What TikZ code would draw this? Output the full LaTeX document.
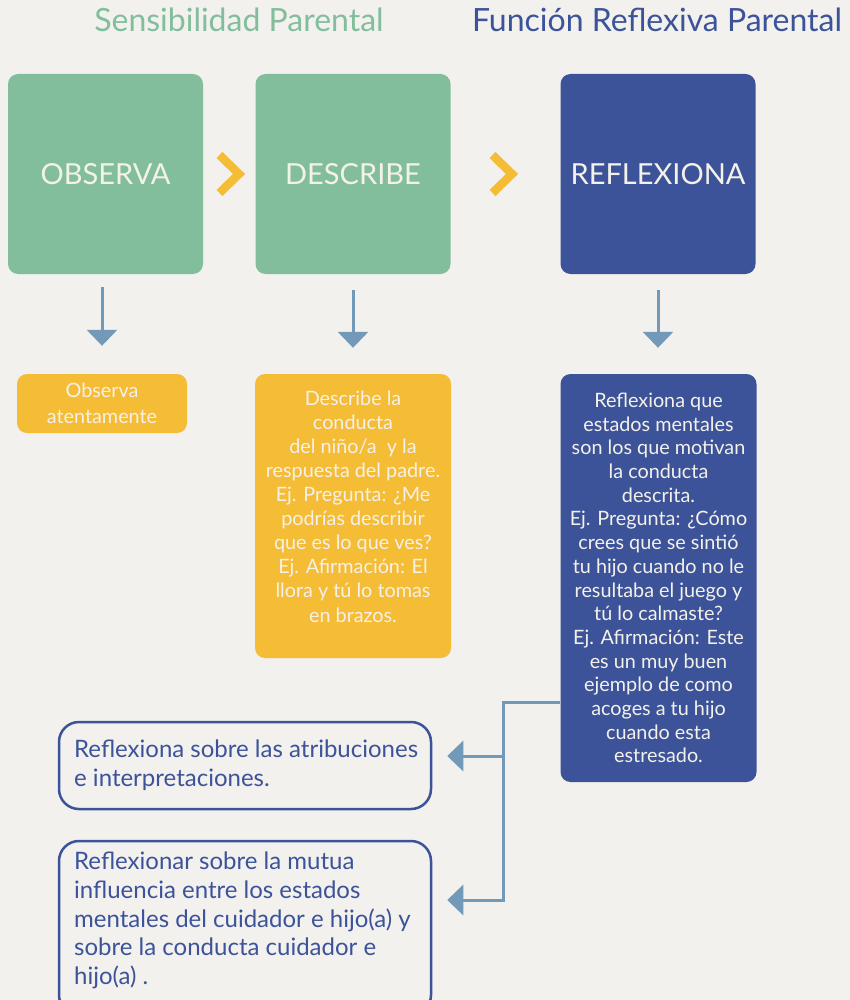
\documentclass[tikz,border=0pt]{standalone}
\usepackage{fontspec}
\setmainfont{Lato}
\usetikzlibrary{arrows.meta,calc}
\definecolor{bg}{HTML}{F2F1EE}
\definecolor{sgreen}{HTML}{82BE9C}
\definecolor{sblue}{HTML}{3C5399}
\definecolor{syellow}{HTML}{F5BC36}
\definecolor{sarrow}{HTML}{7399B8}
\definecolor{stext}{HTML}{F4F1EA}
\begin{document}
\begin{tikzpicture}[x=1pt,y=-1pt,
  titletext/.style={font=\fontsize{32}{36}\selectfont, inner sep=0pt},
  headbox/.style={rounded corners=10pt, minimum width=195pt, minimum height=200pt, inner sep=0pt, text=stext, font=\fontsize{29}{34}\selectfont},
  infobox/.style={rounded corners=10pt, inner sep=0pt, align=center, text=stext, font=\fontsize{19.8}{23.7}\selectfont},
  outbox/.style={draw=sblue, line width=2.5pt, rounded corners=20pt, inner sep=0pt, minimum width=372pt},
  outtext/.style={text=sblue, align=left, anchor=west, font=\fontsize{24}{28.7}\selectfont, inner sep=0pt},
  down/.style={draw=sarrow, line width=3pt, -{Triangle[length=16pt,width=30pt]}},
  conn/.style={draw=sarrow, line width=3pt},
  chev/.style={draw=syellow, line width=8.5pt, miter limit=10},
]
\fill[bg] (0,0) rectangle (850,1000);
\useasboundingbox (0,0) rectangle (850,1000);
\clip (0,0) rectangle (850,1000);

% titles
\node[titletext, text=sgreen] (tsens) at (239,20) {Sensibilidad Parental};
\node[titletext, text=sblue] (tfunc) at (657,20) {Función Reflexiva Parental};

% header boxes
\node[headbox, fill=sgreen] (obs) at (105.5,174) {OBSERVA};
\node[headbox, fill=sgreen] (des) at (353,174) {DESCRIBE};
\node[headbox, fill=sblue] (ref) at (658,174) {REFLEXIONA};

% chevrons
\coordinate (c1) at (229.5,174);
\coordinate (c2) at (502.5,174);
\draw[chev] ($(c1)+(-10,-19)$) -- ($(c1)+(9.5,0)$) -- ($(c1)+(-10,19)$);
\draw[chev] ($(c2)+(-10,-19)$) -- ($(c2)+(9.5,0)$) -- ($(c2)+(-10,19)$);

% detail boxes
\node[infobox, fill=syellow, minimum width=170pt, minimum height=59pt, font=\fontsize{19.8}{25.5}\selectfont] (obsd) at (102,403.5) {Observa\\atentamente};
\node[infobox, fill=syellow, minimum width=196pt, minimum height=284pt, font=\fontsize{19.8}{24.1}\selectfont] (desd) at (353,516) {Describe la\\conducta\\del niño/a\ \ y la\\respuesta del padre.\\Ej. Pregunta: ¿Me\\podrías describir\\que es lo que ves?\\Ej. Afirmación: El\\llora y tú lo tomas\\en brazos.\\[-12pt]\strut};
\node[infobox, fill=sblue, minimum width=196pt, minimum height=408pt] (refd) at (658.5,578) {Reflexiona que\\estados mentales\\son los que motivan\\la conducta\\descrita.\\Ej. Pregunta: ¿Cómo\\crees que se sintió\\tu hijo cuando no le\\resultaba el juego y\\tú lo calmaste?\\Ej. Afirmación: Este\\es un muy buen\\ejemplo de como\\acoges a tu hijo\\cuando esta\\estresado.};

% down arrows
\draw[down, shorten >=28pt] ($(obs.south -| obsd.north)+(0,13)$) -- (obsd.north);
\draw[down, shorten >=26pt] ($(des.south -| desd.north)+(0,16)$) -- (desd.north);
\draw[down, shorten >=26pt] ($(ref.south)+(0,16)$) -- (ref.south |- refd.north);

% outlined boxes
\node[outbox, minimum height=87pt] (o1) at (245,765.5) {};
\node[outtext] (o1t) at (74,765) {Reflexiona sobre las atribuciones\\e interpretaciones.};
\node[outbox, minimum height=174pt] (o2) at (245,928) {};
\node[outtext] (o2t) at (74,920.5) {Reflexionar sobre la mutua\\influencia entre los estados\\mentales del cuidador e hijo(a) y\\sobre la conducta cuidador e\\hijo(a) .};

% connectors
\coordinate (j1) at (503,702);
\coordinate (j2) at (503,756);
\coordinate (j3) at (503,900);
\draw[down, shorten >=15pt] (refd.west |- j1) -- (j1) -- (j3) -- (j3 -| o2.east);
\draw[down, shorten >=15pt] (j2) -- (j2 -| o1.east);
\end{tikzpicture}
\end{document}
